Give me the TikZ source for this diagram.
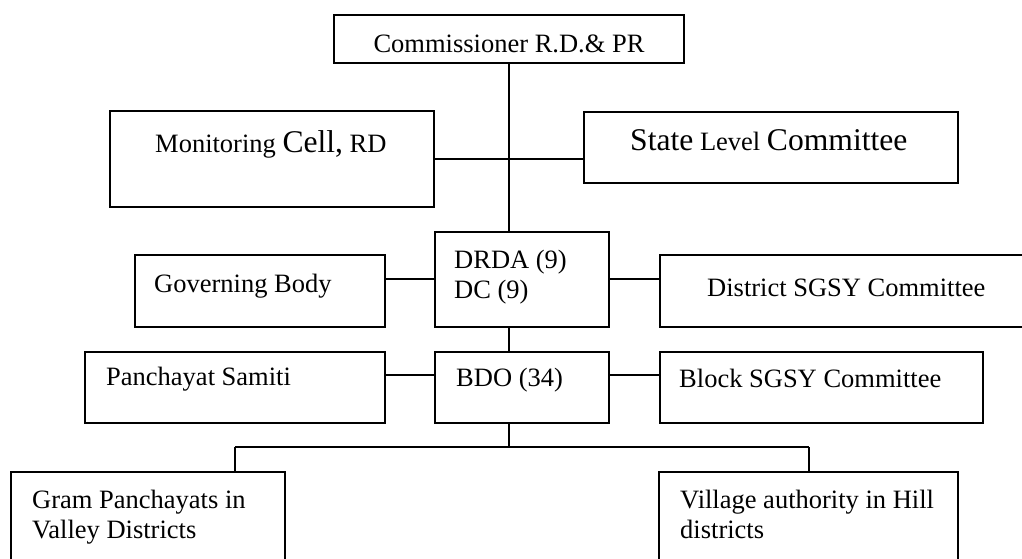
\documentclass[tikz,border=0pt]{standalone}
\usepackage{fontspec}
\setmainfont{Liberation Serif}
\newcommand{\bigpart}[1]{{\fontsize{31.6}{34}\selectfont #1}}
\tikzset{
	box/.style={draw, line width=1.4pt, anchor=north west, inner sep=0pt, outer sep=0pt},
	txt/.style={anchor=base west, inner sep=0pt, align=left},
	link/.style={line width=1.4pt}
}
\begin{document}
\begin{tikzpicture}[x=1pt, y=-1pt, font=\fontsize{26.5}{30}\selectfont]
				\useasboundingbox (0, 0) rectangle (1022, 559);
				\clip (0, 0) rectangle (1022, 559);

				\node (Commissioner) [box, minimum width=350pt, minimum height=48pt] at (334, 15) {};
				\node (CommissionerText) [txt, anchor=base] at (509, 53) {Commissioner R.D.\& PR};

				\node (Monitoring) [box, minimum width=324pt, minimum height=96pt] at (110, 111) {};
				\node (MonitoringText) [txt] at (155, 152) {Monitoring \bigpart{Cell,} RD};

				\node (StateLevel) [box, minimum width=374pt, minimum height=71pt] at (584, 112) {};
				\node (StateLevelText) [txt] at (630, 150) {\bigpart{State} Level \bigpart{Committee}};

				\node (DRDA) [box, minimum width=174pt, minimum height=95pt] at (435, 232) {};
				\node (DRDAText) [txt] at (454, 298) {DRDA (9)\\DC (9)};

				\node (Governing) [box, minimum width=250pt, minimum height=72pt] at (135, 255) {};
				\node (GoverningText) [txt] at (154, 292) {Governing Body};

				\node (District) [box, minimum width=380pt, minimum height=72pt] at (660, 255) {};
				\node (DistrictText) [txt] at (707, 296) {District SGSY Committee};

				\node (Samiti) [box, minimum width=300pt, minimum height=71pt] at (85, 352) {};
				\node (SamitiText) [txt] at (106, 385) {Panchayat Samiti};

				\node (BDO) [box, minimum width=174pt, minimum height=71pt] at (435, 352) {};
				\node (BDOText) [txt] at (456, 386) {BDO (34)};

				\node (Block) [box, minimum width=323pt, minimum height=71pt] at (660, 352) {};
				\node (BlockText) [txt] at (679, 387) {Block SGSY Committee};

				\node (Gram) [box, minimum width=274pt, minimum height=100pt] at (11, 472) {};
				\node (GramText) [txt] at (32, 538) {Gram Panchayats in\\Valley Districts};

				\node (Village) [box, minimum width=299pt, minimum height=100pt] at (659, 472) {};
				\node (VillageText) [txt] at (680, 538) {Village authority in Hill\\districts};

				\draw[link] (Commissioner.south) -- (Commissioner.south |- DRDA.north);
				\draw[link] (Monitoring.east) -- (StateLevel.west |- Monitoring.east);

				\draw[link] ([yshift=12pt]Governing.east) -- ([yshift=12pt]DRDA.west |- Governing.east);
				\draw[link] ([yshift=12pt]DRDA.east |- Governing.east) -- ([yshift=12pt]District.west);

				\draw[link] (Commissioner.south |- DRDA.south) -- (Commissioner.south |- BDO.north);
				\draw[link] ([yshift=12.5pt]Samiti.east) -- ([yshift=12.5pt]BDO.west);
				\draw[link] ([yshift=12.5pt]BDO.east) -- ([yshift=12.5pt]Block.west);

				\coordinate (Fork) at (509, 447);
				\coordinate (ForkLeft) at (235, 447);
				\coordinate (ForkRight) at (809, 447);
				\draw[link] (Commissioner.south |- BDO.south) -- (Fork);
				\draw[link] (ForkLeft) -- (ForkRight);
				\draw[link] (ForkLeft) -- (ForkLeft |- Gram.north);
				\draw[link] (ForkRight) -- (ForkRight |- Village.north);
\end{tikzpicture}
\end{document}
